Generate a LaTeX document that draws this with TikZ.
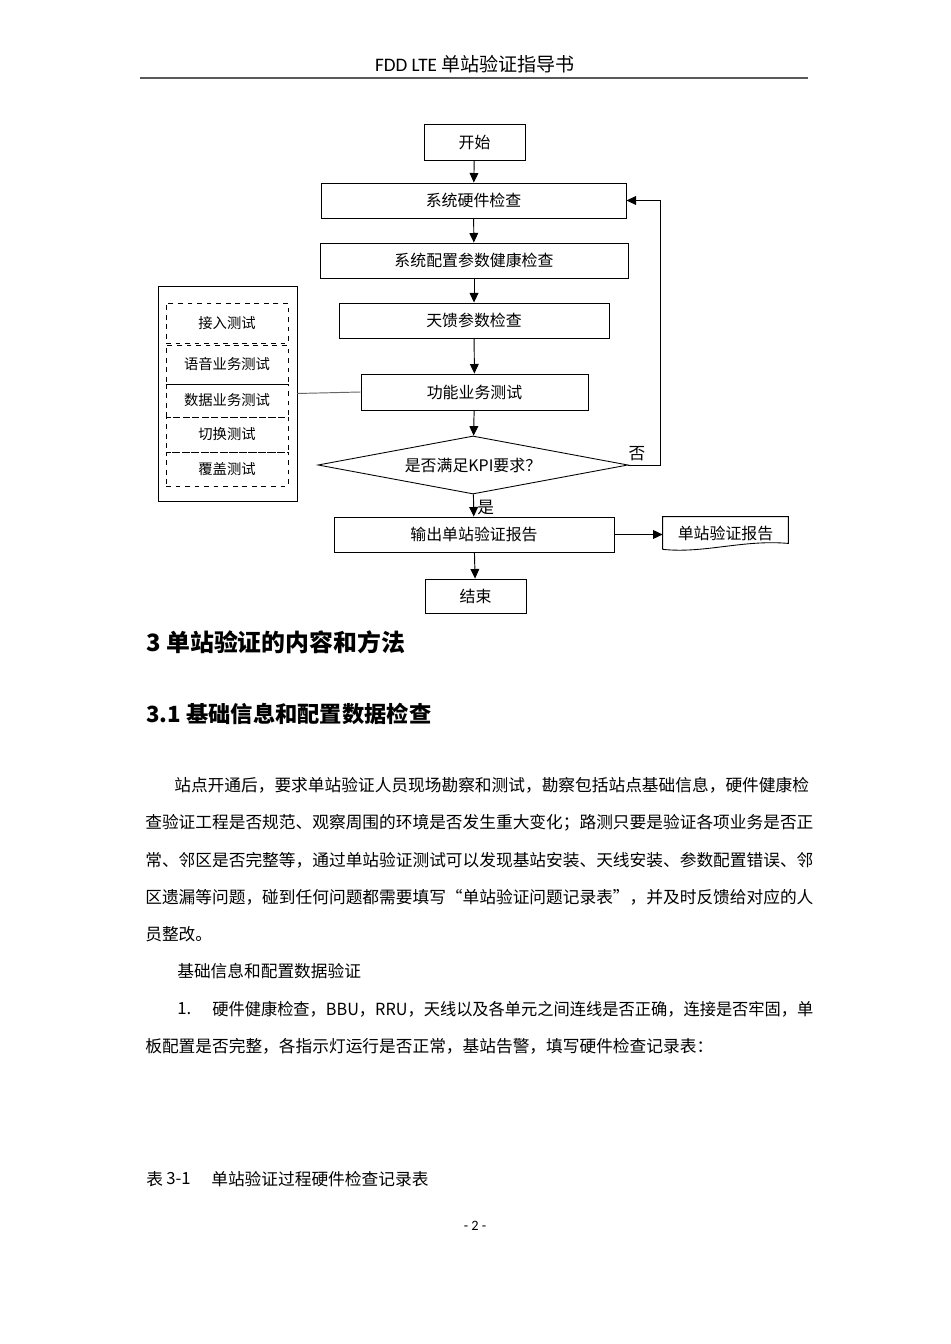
\documentclass[tikz,border=0pt]{standalone}
\usepackage{fontspec}
\usepackage{graphicx}
\setmainfont{Carlito}
\newfontfamily\cjk{Noto Sans CJK SC}
\usetikzlibrary{arrows.meta,positioning,shapes.geometric}

\tikzset{
  box/.style={draw, line width=0.55pt, rectangle, inner sep=0pt, minimum height=0.774cm, font=\cjk\fontsize{10}{12}\selectfont},
  subbox/.style={draw, dashed, line width=0.5pt, inner sep=0pt, minimum width=2.696cm, font=\cjk\fontsize{9}{11}\selectfont},
  arr/.style={line width=0.6pt, -{Triangle[width=5.5pt,length=6pt]}},
  body/.style={anchor=west, inner sep=0pt, font=\cjk\fontsize{10.5}{12}\selectfont},
  heading/.style={anchor=west, inner sep=0pt, font=\cjk\bfseries\fontsize{15}{18}\selectfont}
}

\begin{document}
\begin{tikzpicture}[x=0.0221cm, y=-0.0221cm]
            \useasboundingbox[fill=white] (0,0) rectangle (950,1344);

            % Header
            \node[font=\fontsize{12}{14}\selectfont] (head) at (475,64) {FDD LTE {\cjk 单站验证指导书}};
            \draw[line width=1.2pt, black!65] (140,78) -- (808,78);

            % Flow chart
            \node[box, minimum width=2.232cm, minimum height=0.796cm] (start) at (474.5,142) {开始};
            \node[box, minimum width=6.74cm] (hw) at (473.5,200.5) {系统硬件检查};
            \node[box, minimum width=6.807cm] (cfg) at (474,260.5) {系统配置参数健康检查};
            \node[box, minimum width=5.967cm] (ant) at (474,320.5) {天馈参数检查};
            \node[box, minimum width=5.017cm, minimum height=0.796cm] (func) at (474.5,392) {功能业务测试};
            \node[box, diamond, aspect=5.3, minimum width=6.851cm, minimum height=1.282cm] (kpi) at (473,465) {是否满足KPI要求？};
            \node[box, minimum width=6.188cm] (out) at (474,534.5) {输出单站验证报告};
            \node[box, minimum width=2.232cm, minimum height=0.751cm] (end) at (475.5,596) {结束};

            % Report (document shape)
            \node[inner sep=0pt, minimum width=2.763cm, minimum height=0.707cm, font=\cjk\fontsize{10}{12}\selectfont] (rep) at (725.5,533) {单站验证报告};
            \draw[line width=0.55pt] (rep.south west) -- (rep.north west) -- (rep.north east) -- ([yshift=0.13cm]rep.south east)
                .. controls ([xshift=-1cm,yshift=0.22cm]rep.south east) and ([xshift=0.9cm,yshift=-0.1cm]rep.south west) .. (rep.south west);

            % Test group
            \node[draw, line width=0.55pt, minimum width=3.072cm, minimum height=4.752cm] (grp) at (227.5,393.5) {};
            \node[subbox, minimum height=0.884cm] (acc) at (227,323) {接入测试};
            \node[subbox, minimum height=0.862cm] (voice) at (227,364.5) {语音业务测试};
            \node[subbox, minimum height=0.729cm] (data) at (227,400.5) {数据业务测试};
            \node[subbox, minimum height=0.774cm] (ho) at (227,434.5) {切换测试};
            \node[subbox, minimum height=0.751cm] (cov) at (227,469) {覆盖测试};
            \draw[line width=0.5pt] (voice.south west) -- (voice.south east);

            % Connectors
            \draw[arr] (start) -- (hw);
            \draw[arr] (hw) -- (cfg);
            \draw[arr] (cfg) -- (ant);
            \draw[arr] (ant) -- (func);
            \draw[arr] (func) -- (kpi);
            \draw[arr] (kpi) -- node[right, pos=0.6, inner sep=2pt, font=\cjk\fontsize{10.5}{12}\selectfont] (yes) {是} (out);
            \coordinate (back) at (660,465);
            \draw[arr] (kpi.east) -- (back) |- (hw.east);
            \node[font=\cjk\fontsize{10.5}{12}\selectfont] (no) at (637,454) {否};
            \draw[arr] (out) -- (out.east -| rep.west);
            \draw[arr] (out) -- (end);
            \draw[line width=0.6pt, black!60] (grp.east) -- (func.west);

            % Section headings
            \node[heading] (sec) at (146,642) {3 单站验证的内容和方法};
            \node[heading, font=\cjk\bfseries\fontsize{14}{17}\selectfont] (subsec) at (146,714) {3.1 基础信息和配置数据检查};

            % Body text
            \node[body] (p1) at (174,785) {站点开通后，要求单站验证人员现场勘察和测试，勘察包括站点基础信息，硬件健康检};
            \node[body] (p2) at (145,823) {查验证工程是否规范、观察周围的环境是否发生重大变化；路测只要是验证各项业务是否正};
            \node[body] (p3) at (145,860) {常、邻区是否完整等，通过单站验证测试可以发现基站安装、天线安装、参数配置错误、邻};
            \node[body] (p4) at (145,897) {区遗漏等问题，碰到任何问题都需要填写“单站验证问题记录表”，并及时反馈给对应的人};
            \node[body] (p5) at (145,934) {员整改。};
            \node[body] (p6) at (177,971) {基础信息和配置数据验证};
            \node[body] (num) at (177,1009) {1.};
            \node[body] (p7) at (212,1009) {\resizebox{13.28cm}{\height}{硬件健康检查，BBU，RRU，天线以及各单元之间连线是否正确，连接是否牢固，单}};
            \node[body] (p8) at (145,1046) {板配置是否完整，各指示灯运行是否正常，基站告警，填写硬件检查记录表：};

            % Caption and page number
            \node[body] (tab) at (146,1179) {表};
            \node[body] (tabnum) at (166,1179) {3-1};
            \node[body] (cap) at (211,1179) {单站验证过程硬件检查记录表};
            \node[font=\fontsize{9}{11}\selectfont] (page) at (475,1226) {- 2 -};
\end{tikzpicture}
\end{document}
